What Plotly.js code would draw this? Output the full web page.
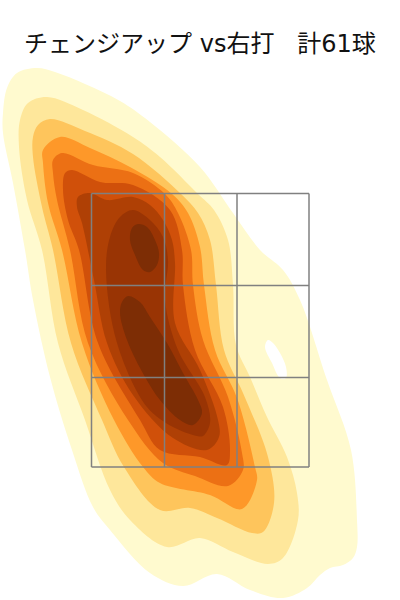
<!DOCTYPE html>
<html><head><meta charset="utf-8">
<script src="https://cdn.plot.ly/plotly-3.0.1.min.js"></script>
<style>html,body{margin:0;padding:0;background:#fff}#c{width:400px;height:600px}</style>
</head><body><div id="c"></div>
<script>
// Density bands, outermost first: each is one contour outline.
var band1X=[37,55,85,120,150,200,233,260,283,300,327,351,357,357,353,343,330,320,307,283,250,217,183,150,110,93,72,50,33,25,13,3,3,7,17,37];
var band1Y=[68,72,84,101,122,167,213,250,270,300,380,450,520,547,558,565,568,575,588,598,590,574,586,573,530,507,450,377,300,250,183,133,113,88,73,68];
var holeX=[268,265,272,280,286,286,280,273,268];
var holeY=[340,347,363,378,378,367,353,343,340];
var band2X=[47,83,133,160,198,214,228,233,236,250,267,287,297,298,283,268,233,200,167,130,110,85,58,42,27,19,20,28,47];
var band2Y=[97,110,137,157,194,210,240,285,345,377,417,457,493,520,558,564,552,538,547,520,490,420,343,250,200,147,120,103,97];
var band3X=[50,85,133,181,198,210,216,224,243,268,274,263,252,217,190,160,124,102,71,53,42,33,33,38,50];
var band3Y=[119,131,154,194,213,240,285,350,393,457,503,532,533,518,508,510,467,420,343,250,207,157,137,125,119];
var band4X=[60,90,130,172,188,200,204,215,237,255,257,242,210,160,143,114,82,62,48,43,43,60];
var band4Y=[137,148,167,194,213,247,285,350,398,467,480,509,495,483,467,420,343,250,203,163,150,137];
var band5X=[62,93,133,165,178,191,193,203,228,242,243,228,195,163,128,88,70,57,53,53,62];
var band5Y=[153,165,173,194,213,250,285,340,397,453,470,486,476,463,420,343,250,200,173,160,153];
var band6X=[72,100,133,170,182,183,195,223,230,227,200,160,140,98,79,68,63,65,72];
var band6Y=[170,182,185,210,250,285,350,407,450,465,457,450,420,343,250,220,190,173,170];
var band7X=[90,107,133,150,163,172,175,175,200,218,219,207,173,133,107,94,82,77,78,90];
var band7Y=[193,200,197,205,220,240,263,323,370,420,437,450,438,395,343,280,223,207,197,193];
var band8X=[133,150,163,168,165,178,205,210,203,197,173,147,117,106,110,120,133];
var band8Y=[210,220,237,260,300,350,397,423,436,436,427,407,343,270,237,217,210];
var peakAX=[138,132,130,135,143,150,157,159,155,147,138];
var peakAY=[224,228,240,255,270,272,265,253,240,227,224];
var peakBX=[128,122,120,127,145,160,180,193,202,198,183,167,150,140,128];
var peakBY=[296,302,313,340,377,400,420,425,413,400,373,343,317,302,296];
// Strike zone divisions
var zoneX=[91.5,164.5,237,309];
var zoneY=[193.5,285.5,377.5,467];
var chartTitle='チェンジアップ vs右打   計61球';
var bandColors=['#FFFACF','#FEE79B','#FEC55C','#FE9829','#EC7014','#D0500A','#AF4005','#993404','#7D2D05','#7D2D05'];

var bands=[[band1X,band1Y],[band2X,band2Y],[band3X,band3Y],[band4X,band4Y],[band5X,band5Y],[band6X,band6Y],[band7X,band7Y],[band8X,band8Y],[peakAX,peakAY],[peakBX,peakBY]];
var traces=[];
bands.forEach(function(b,i){
  traces.push({type:'scatter',mode:'lines',x:b[0],y:b[1],fill:'toself',fillcolor:bandColors[i],
    line:{color:bandColors[i],width:0,shape:'spline',smoothing:1},hoverinfo:'skip',showlegend:false});
  if(i===0){
    traces.push({type:'scatter',mode:'lines',x:holeX,y:holeY,fill:'toself',fillcolor:'#fff',
      line:{color:'#fff',width:0,shape:'spline',smoothing:1},hoverinfo:'skip',showlegend:false});
  }
});
var zoneStyle={color:'#808080',width:1.5};
zoneX.forEach(function(v){
  traces.push({type:'scatter',mode:'lines',x:[v,v],y:[zoneY[0],zoneY[zoneY.length-1]],line:zoneStyle,hoverinfo:'skip',showlegend:false});
});
zoneY.forEach(function(v){
  traces.push({type:'scatter',mode:'lines',x:[zoneX[0],zoneX[zoneX.length-1]],y:[v,v],line:zoneStyle,hoverinfo:'skip',showlegend:false});
});
Plotly.newPlot('c',traces,{
  width:400,height:600,margin:{l:0,r:0,t:0,b:0},paper_bgcolor:'#fff',plot_bgcolor:'#fff',
  showlegend:false,
  title:{text:chartTitle,x:0.5,xanchor:'center',y:0.927,yanchor:'middle',
    font:{family:'"DejaVu Sans","Noto Sans CJK JP",sans-serif',size:24,color:'#111'}},
  xaxis:{range:[0,400],visible:false,fixedrange:true},
  yaxis:{range:[600,0],visible:false,fixedrange:true}
},{displayModeBar:false,staticPlot:true});
</script></body></html>
